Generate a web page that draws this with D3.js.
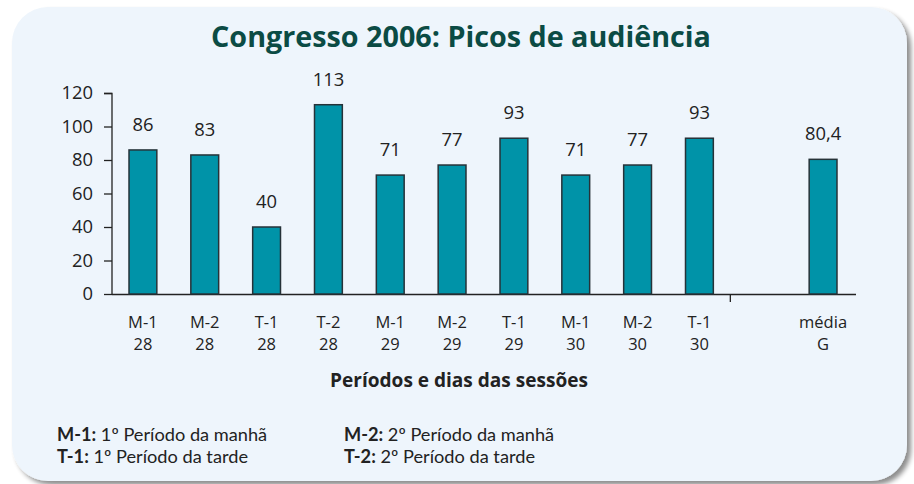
<!DOCTYPE html>
<html><head><meta charset="utf-8">
<script src="https://cdn.jsdelivr.net/npm/d3@7/dist/d3.min.js"></script>
<style>
body{margin:0;background:#fff;}
text{font-family:"Open Sans","Noto Sans",sans-serif;}
</style></head>
<body><svg id="c" width="914" height="484"></svg>
<script>
const categories = ["M-1|28","M-2|28","T-1|28","T-2|28","M-1|29","M-2|29","T-1|29","M-1|30","M-2|30","T-1|30","","média|G"];
const values = [86,83,40,113,71,77,93,71,77,93,null,80.4];
const valueLabels = ["86","83","40","113","71","77","93","71","77","93","","80,4"];
const yTicks = [0,20,40,60,80,100,120];
const title = "Congresso 2006: Picos de audiência";
const xTitle = "Períodos e dias das sessões";
const legend = [["M-1:"," 1º Período da manhã"],["M-2:"," 2º Período da manhã"],["T-1:"," 1º Período da tarde"],["T-2:"," 2º Período da tarde"]];

const svg = d3.select("#c");
const defs = svg.append("defs");
const f = defs.append("filter").attr("id","sh").attr("x","-5%").attr("y","-5%").attr("width","115%").attr("height","115%");
f.append("feGaussianBlur").attr("in","SourceAlpha").attr("stdDeviation",2.5);
f.append("feOffset").attr("dx",4).attr("dy",4).attr("result","b");
f.append("feComponentTransfer").append("feFuncA").attr("type","linear").attr("slope",0.45);
const m = f.append("feMerge"); m.append("feMergeNode"); m.append("feMergeNode").attr("in","SourceGraphic");

svg.append("rect").attr("x",12).attr("y",7).attr("width",895).attr("height",474)
  .attr("rx",36).attr("fill","#eef5fc").attr("filter","url(#sh)");

const x = d3.scaleBand().domain(d3.range(categories.length)).range([112,854]).paddingInner(0.55).paddingOuter(0.275);
const y = d3.scaleLinear().domain([0,120]).range([294,93]);

function fit(sel, base, target, maxSize){
  const w = sel.node().getComputedTextLength();
  let s = base*target/w;
  if(maxSize) s = Math.min(s, maxSize);
  sel.attr("font-size", s);
}

// title
const t = svg.append("text").attr("x",461).attr("y",47).attr("text-anchor","middle")
  .attr("font-weight",700).attr("font-size",28).attr("fill","#0b4b44").text(title);
fit(t,28,500);

// y axis
const ya = svg.append("g").attr("transform","translate(112,0)")
  .call(d3.axisLeft(y).tickValues(yTicks).tickSize(8).tickPadding(11));
ya.select(".domain").attr("stroke","#222").attr("stroke-width",1.3).attr("d","M-8,93.5H0V294");
ya.selectAll(".tick line").attr("stroke","#222").attr("stroke-width",1.3);
ya.selectAll(".tick text").attr("font-size",18.4).attr("fill","#222").attr("font-family","Open Sans");

// x axis baseline
svg.append("line").attr("x1",112).attr("x2",856).attr("y1",294.5).attr("y2",294.5).attr("stroke","#222").attr("stroke-width",1.3);
const bnd = x(10) - x.step()*x.paddingInner()/2;
svg.append("line").attr("x1",bnd).attr("x2",bnd).attr("y1",294).attr("y2",302).attr("stroke","#222").attr("stroke-width",1.3);

// bars
const data = values.map((v,i)=>({v,i})).filter(d=>d.v!=null);
svg.selectAll("rect.bar").data(data).join("rect").attr("class","bar")
  .attr("x",d=>x(d.i)).attr("width",x.bandwidth())
  .attr("y",d=>y(d.v)).attr("height",d=>y(0)-y(d.v))
  .attr("fill","#0093a8").attr("stroke","#263238").attr("stroke-width",1.5);

svg.selectAll("text.vl").data(data).join("text").attr("class","vl")
  .attr("x",d=>x(d.i)+x.bandwidth()/2).attr("y",d=>y(d.v)-19)
  .attr("text-anchor","middle").attr("font-size",18.4).attr("fill","#222")
  .text(d=>valueLabels[d.i]);

// category labels
categories.forEach((c,i)=>{
  if(!c) return;
  const [a,b] = c.split("|");
  const cx = x(i)+x.bandwidth()/2;
  svg.append("text").attr("x",cx).attr("y",328).attr("text-anchor","middle").attr("font-size",16.5).attr("fill","#222").text(a);
  svg.append("text").attr("x",cx).attr("y",350).attr("text-anchor","middle").attr("font-size",16.5).attr("fill","#222").text(b);
});

const xt = svg.append("text").attr("x",459).attr("y",387).attr("text-anchor","middle").attr("font-weight",700)
  .attr("font-size",16.5).attr("fill","#222").text(xTitle);
fit(xt,16.5,258);

// legend
const pos = [[57,441],[344,441],[57,463],[344,463]];
const widths = [232,234,217,218];
legend.forEach((l,i)=>{
  const tx = svg.append("text").attr("x",pos[i][0]).attr("y",pos[i][1]).attr("font-size",18)
    .attr("fill","#222").style("font-family","Lato, 'Open Sans', sans-serif");
  tx.append("tspan").attr("font-weight",700).text(l[0]);
  tx.append("tspan").text(l[1]);
  fit(tx,18,widths[i],18.2);
});
</script></body></html>
